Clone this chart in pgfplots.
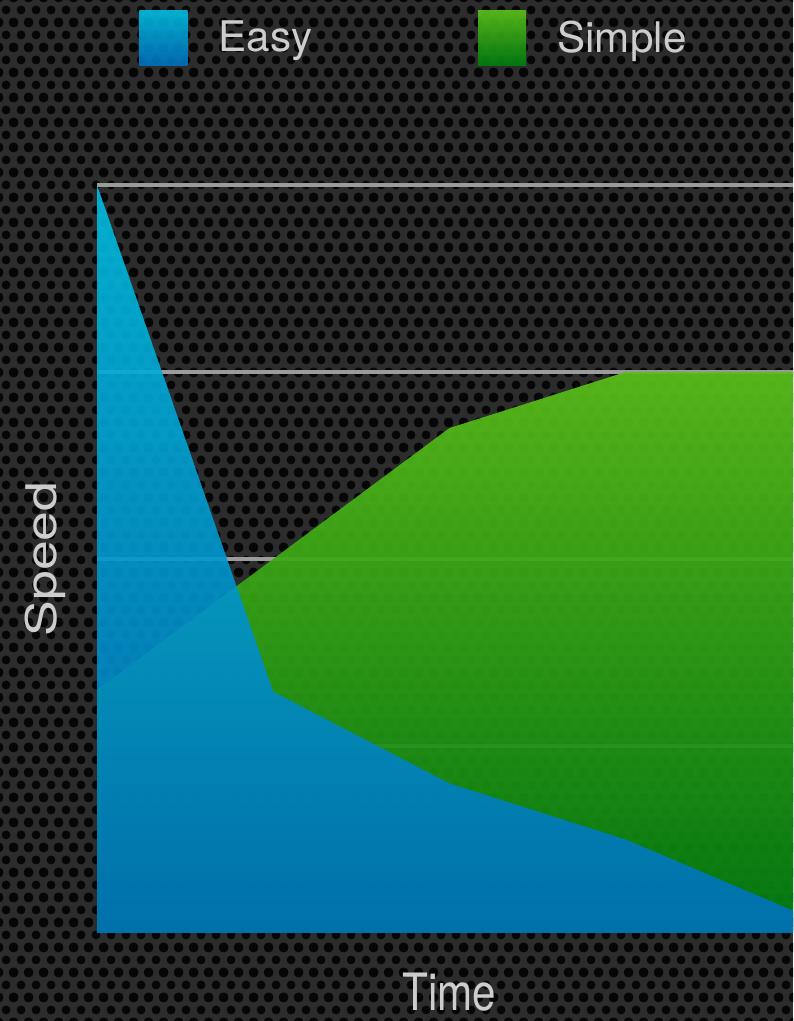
\documentclass[border=0pt]{standalone}
\usepackage{fontspec}
\setmainfont{TeX Gyre Heros}
\usepackage{pgfplots}
\pgfplotsset{compat=1.18}
\usetikzlibrary{patterns.meta}

\definecolor{bgdark}{RGB}{44,44,44}
\definecolor{dotdark}{RGB}{6,6,6}
\definecolor{easytop}{RGB}{0,190,225}
\definecolor{easybot}{RGB}{0,112,188}
\definecolor{simpletop}{RGB}{90,190,25}
\definecolor{simplebot}{RGB}{0,124,16}
\definecolor{labelgray}{RGB}{205,205,205}
\definecolor{gridgray}{RGB}{155,155,155}

% honeycomb dots of the slide background
\tikzdeclarepattern{
  name=hexdots,
  type=uncolored,
  bottom left={(0pt,0pt)},
  top right={(10.7pt,17.8pt)},
  tile size={(10.7pt,17.8pt)},
  code={
    \fill (0pt,0pt) circle (3.3pt);
    \fill (10.7pt,0pt) circle (3.3pt);
    \fill (0pt,17.8pt) circle (3.3pt);
    \fill (10.7pt,17.8pt) circle (3.3pt);
    \fill (5.35pt,8.9pt) circle (3.3pt);
  }
}

\begin{document}
\begin{tikzpicture}
\useasboundingbox (0,0) rectangle (19.825cm,25.525cm);
\fill[bgdark] (0,0) rectangle (19.825cm,25.525cm);
\fill[pattern=hexdots, pattern color=dotdark] (0,0) rectangle (19.825cm,25.525cm);

\begin{axis}[
  at={(2.425cm,2.2cm)}, anchor=south west,
  scale only axis, width=17.4cm, height=18.7cm,
  xmin=0, xmax=3.95, ymin=0, ymax=4,
  xtick=\empty, ytick={1,2,3,4}, yticklabels={},
  major tick length=0pt,
  axis line style={draw=none},
  ymajorgrids,
  grid style={gridgray, line width=2.2pt},
  major grid style={gridgray, line width=2.2pt},
  label style={font=\fontsize{30}{36}\selectfont, text=labelgray, inner sep=0pt},
  xlabel={Time}, ylabel={Speed},
  xlabel style={at={(axis description cs:0.506,-0.104)}, anchor=base, yscale=1.22},
  ylabel style={at={(axis description cs:-0.0575,0.5)}, anchor=base, xscale=1.27},
  reverse legend,
  legend columns=2,
  legend style={
    at={(0.0603,1.197)}, anchor=west,
    draw=none, fill=none, inner sep=0pt,
    font=\fontsize{30}{36}\selectfont, text=labelgray,
    nodes={inner sep=0pt},
    /tikz/every odd column/.append style={column sep=0.78cm},
    /tikz/every even column/.append style={column sep=4.15cm},
  },
]

% Simple (green), drawn first so that Easy lies over it
\addplot[draw=none, top color=simpletop, bottom color=simplebot, fill opacity=0.93,
  legend image code/.code={\shade[top color=simpletop, bottom color=simplebot] (0cm,-0.6875cm) rectangle (1.2cm,0.6875cm);}]
  coordinates {
    (0, 1.30)
    (1, 2.00)
    (2, 2.70)
    (3, 3.00)
    (3.95, 3.00)
  } \closedcycle;
\addlegendentry{Simple}

% Easy (blue)
\addplot[draw=none, top color=easytop, bottom color=easybot, fill opacity=0.9,
  legend image code/.code={\shade[top color=easytop, bottom color=easybot] (0cm,-0.6875cm) rectangle (1.2cm,0.6875cm);}]
  coordinates {
    (0, 4.00)
    (1, 1.29)
    (2, 0.80)
    (3, 0.50)
    (3.95, 0.12)
  } \closedcycle;
\addlegendentry{Easy}

\end{axis}
\end{tikzpicture}
\end{document}
